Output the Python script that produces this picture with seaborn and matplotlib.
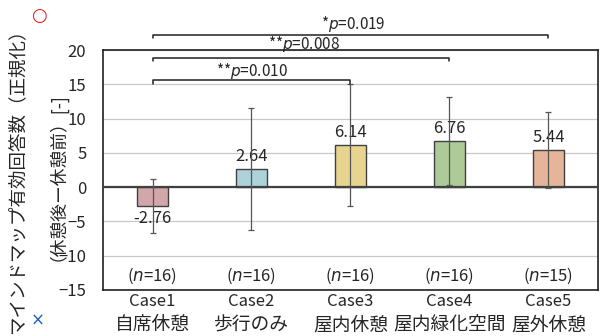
import matplotlib
matplotlib.use("Agg")
import matplotlib.pyplot as plt
import seaborn as sns
import pandas as pd

cases = ["Case1", "Case2", "Case3", "Case4", "Case5"]
names_jp = ["自席休憩", "歩行のみ", "屋内休憩", "屋内緑化空間", "屋外休憩"]
means = [-2.76, 2.64, 6.14, 6.76, 5.44]
sds = [3.9, 8.95, 8.85, 6.4, 5.5]
n_counts = [16, 16, 16, 16, 15]
colors = ["#D9A0A6", "#A6D7E1", "#F6DC80", "#ABD48F", "#F2B28C"]

# significance brackets: (from, to, height, stars, p)
brackets = [(0, 2, 15.6, "**", "0.010"),
            (0, 3, 18.9, "**", "0.008"),
            (0, 4, 22.2, "*", "0.019")]
bracket_label_y = [17.0, 20.9, 23.8]
bracket_label_x = [1.0, 1.53, 2.03]

sns.set_style("white")
plt.rcParams['font.family'] = ['Noto Sans CJK JP', 'DejaVu Sans']

df = pd.DataFrame({"case": cases, "mean": means})

fig = plt.figure(figsize=(6.11, 3.36), dpi=100)
ax = fig.add_axes([0.1686, 0.137, 0.81, 0.714])

for y in range(-15, 21, 5):
    ax.axhline(y, color="#C8C8C8", lw=0.9, zorder=0)

sns.barplot(data=df, x="case", y="mean", hue="case", palette=colors, legend=False,
            width=0.32, edgecolor="#404040", linewidth=1.0, ax=ax, zorder=2)
ax.axhline(0, color="#404040", lw=1.6, zorder=3)
ax.errorbar(range(len(cases)), means, yerr=sds, fmt="none", ecolor="#555555",
            elinewidth=0.9, capsize=2.5, capthick=0.9, zorder=4)

for i, m in enumerate(means):
    if m < 0:
        ax.text(i, m - 0.6, f"{m:.2f}", ha="center", va="top", fontsize=12)
    else:
        ax.text(i, m + 0.6, f"{m:.2f}", ha="center", va="bottom", fontsize=12)
    ax.text(i, -13, f"($\\it{{n}}$={n_counts[i]})", ha="center", va="center", fontsize=12)
    # japanese case name below the tick label
    ax.text(i, -20.1, names_jp[i], ha="center", va="center", fontsize=13.5,
            clip_on=False)

for (a, b, h, stars, p), ly, lx in zip(brackets, bracket_label_y, bracket_label_x):
    ax.plot([a, a, b, b], [h - 0.5, h, h, h - 0.5], color="#202020", lw=1.1,
            clip_on=False, zorder=5)
    ax.text(lx, ly, f"{stars}$\\it{{p}}$={p}", ha="center", va="center",
            fontsize=11, clip_on=False)

ax.set_ylim(-15, 20)
ax.set_xlim(-0.5, 4.5)
ax.set_yticks(range(-15, 21, 5))
ax.set_xticks(range(len(cases)))
ax.set_xticklabels(cases, fontsize=12)
ax.tick_params(axis="y", labelsize=12, length=0, pad=12)
ax.tick_params(axis="x", length=0, pad=2)
ax.set_xlabel("")
ax.set_ylabel("")
for s in ax.spines.values():
    s.set_color("#202020")
    s.set_linewidth(1.2)

fig.text(0.028, 0.475, "マインドマップ有効回答数（正規化）", rotation=90, ha="center",
         va="center", fontsize=13.3)
fig.text(0.0785, 0.488, "（休憩後ー休憩前）[-]", rotation=90, ha="center",
         va="center", fontsize=12.8)
fig.text(0.063, 0.952, "○", color="#E02020", fontsize=13, ha="center", va="center",
         fontweight="bold", family=["DejaVu Sans"])
fig.text(0.062, 0.047, "×", color="#2060C0", fontsize=12, ha="center", va="center",
         family=["DejaVu Sans"])

fig.savefig("out.png", dpi=100)
